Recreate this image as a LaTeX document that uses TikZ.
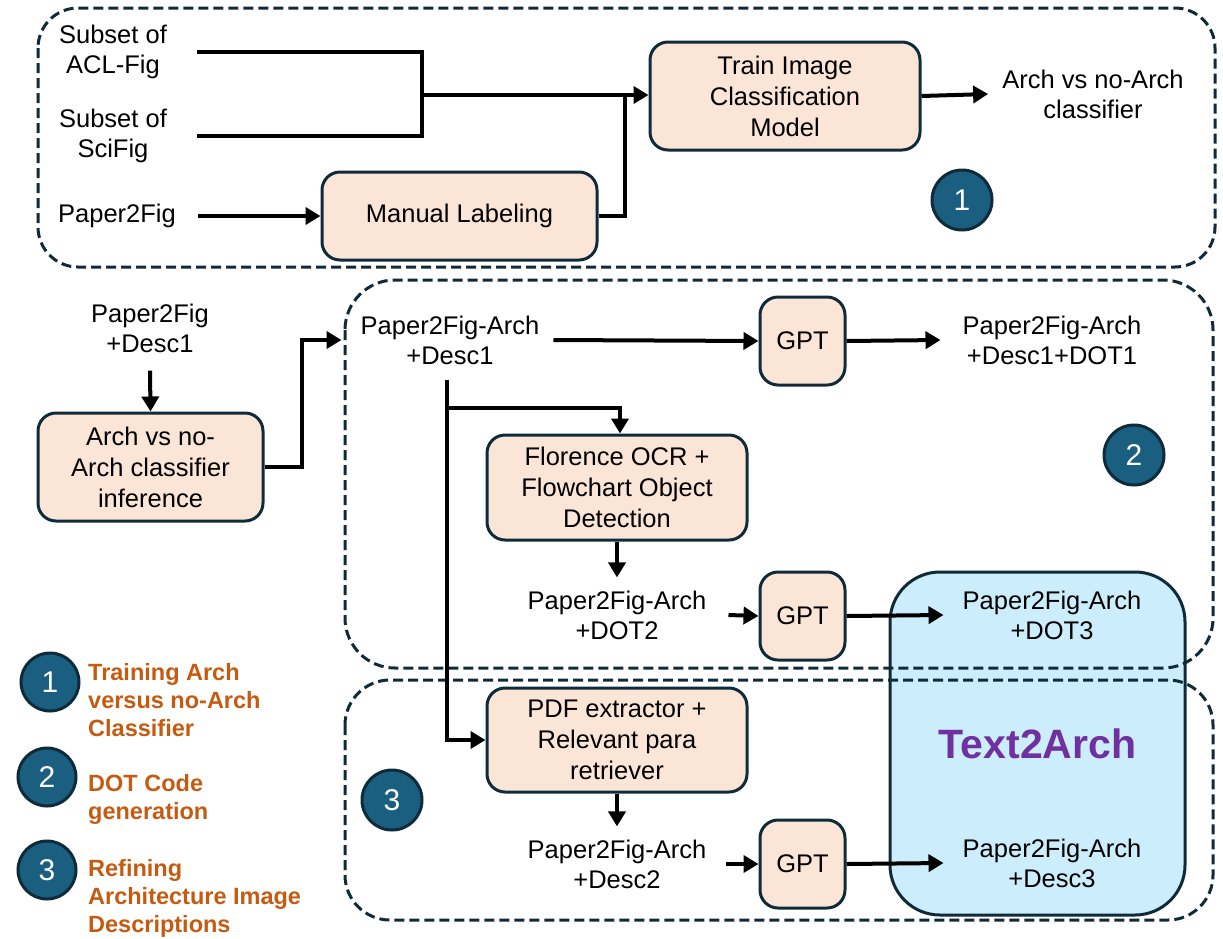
\documentclass[tikz,border=0pt]{standalone}
\usepackage{fontspec}
\setmainfont{Liberation Sans}
\usetikzlibrary{arrows.meta,calc}

\definecolor{peach}{HTML}{FBE5D6}
\definecolor{edge}{HTML}{0F2B3A}
\definecolor{badge}{HTML}{1A5E80}
\definecolor{skyfill}{HTML}{CCEDFB}
\definecolor{titlepurple}{HTML}{7030A0}
\definecolor{legendorange}{HTML}{C55A11}

\tikzset{
  txt/.style={align=center, inner sep=0pt, font=\fontsize{25.5}{30}\selectfont},
  procbox/.style={draw=edge, fill=peach, line width=3pt, rounded corners=18pt,
    align=center, inner sep=0pt, font=\fontsize{25.5}{31}\selectfont},
  gptbox/.style={procbox, minimum width=85pt, minimum height=88pt},
  conn/.style={line width=4pt, draw=black},
  arr/.style={conn, -{Triangle[length=15pt,width=17pt]}},
  dashbox/.style={draw=edge, line width=3pt, dash pattern=on 10pt off 5pt},
  badgenode/.style={circle, draw=edge, fill=badge, line width=3pt, inner sep=0pt,
    minimum size=60pt, text=white, font=\fontsize{30}{30}\selectfont},
  legendtxt/.style={anchor=west, align=left, inner sep=0pt, text=legendorange,
    font=\bfseries\fontsize{23.5}{28}\selectfont},
}

\begin{document}
\begin{tikzpicture}[x=1pt, y=-1pt]
\useasboundingbox (0,0) rectangle (1223,938);

% Text2Arch highlight region (behind the dashed groups)
\node[draw=edge, fill=skyfill, line width=3pt, rounded corners=50pt,
      minimum width=295pt, minimum height=343pt, inner sep=0pt,
      text=titlepurple, font=\bfseries\fontsize{41}{41}\selectfont]
      (t2a) at (1037.5,743.5) {Text2Arch};

% dashed stage groups
\draw[dashbox, rounded corners=40pt] (38,8) rectangle (1215,267);
\draw[dashbox, rounded corners=50pt] (345,280) rectangle (1213,668);
\draw[dashbox, rounded corners=45pt] (345,680) rectangle (1213,920);

% ---------- stage 1 ----------
\node[txt] (acl) at (113,52) {Subset of\\ACL-Fig};
\node[txt] (sci) at (113,136) {Subset of\\SciFig};
\node[txt] (p2f) at (117,216) {Paper2Fig};
\node[procbox, minimum width=275pt, minimum height=88pt] (manual) at (459.5,216) {Manual Labeling};
\node[procbox, minimum width=270pt, minimum height=108pt] (train) at (785,96) {Train Image\\Classification\\Model};
\node[txt] (cls) at (1093,94) {Arch vs no-Arch\\classifier};
\node[badgenode] (b1) at (962,200) {1};

\coordinate (j1) at (422,95);
\coordinate (j2) at (625,95);
\draw[conn] ([xshift=30pt]acl.east) -| (j1) |- ([xshift=30pt]sci.east);
\draw[arr] (j1) -- (train.west |- j1);
\draw[conn] (manual.east) -| (j2);
\draw[arr] ([xshift=22pt]p2f.east) -- (manual.west);
\draw[arr] (train.east) -- ([xshift=-14pt]cls.west);

% ---------- stage 2 ----------
\node[txt] (p2fd) at (150,328) {Paper2Fig\\+Desc1};
\node[procbox, minimum width=225pt, minimum height=108pt] (inf) at (150.5,467) {Arch vs no-\\Arch classifier\\inference};
\node[txt] (p2fa) at (450,340) {Paper2Fig-Arch\\+Desc1};
\node[gptbox] (gpt1) at (802.5,341) {GPT};
\node[txt] (dot1) at (1052,340) {Paper2Fig-Arch\\+Desc1+DOT1};
\node[badgenode] (b2) at (1134,455) {2};
\node[procbox, minimum width=260pt, minimum height=105pt] (flor) at (617,487.5) {Florence OCR +\\Flowchart Object\\Detection};
\node[txt] (dot2) at (617,615) {Paper2Fig-Arch\\+DOT2};
\node[gptbox] (gpt2) at (802.5,616) {GPT};
\node[txt] (dot3) at (1052,615) {Paper2Fig-Arch\\+DOT3};

\draw[arr] ([yshift=-18pt]p2fd.south) -- (inf.north);
\draw[arr] (inf.east) -- ++(37,0) |- ([xshift=-19pt]p2fa.west);
\draw[arr] ([xshift=14pt]p2fa.east) -- (gpt1.west);
\draw[arr] (gpt1.east) -- ([xshift=-22pt]dot1.west);

\coordinate (t0) at (447,380);
\coordinate (b0) at (447,408);
\draw[arr] (b0) -| ([xshift=3pt]flor.north);
\draw[arr] (flor.south) -- ([yshift=13pt]dot2.north);
\draw[arr] ([xshift=22pt]dot2.east) -- (gpt2.west);
\draw[arr] (gpt2.east) -- ([xshift=-19pt]dot3.west);

% ---------- stage 3 ----------
\node[procbox, minimum width=260pt, minimum height=104pt] (pdf) at (617,740) {PDF extractor +\\Relevant para\\retriever};
\node[txt] (desc2) at (617,864) {Paper2Fig-Arch\\+Desc2};
\node[gptbox] (gpt3) at (802.5,864) {GPT};
\node[txt] (desc3) at (1052,863) {Paper2Fig-Arch\\+Desc3};
\node[badgenode] (b3) at (392,800) {3};

\draw[arr] (t0) |- (pdf.west);
\draw[arr] (pdf.south) -- ([yshift=13pt]desc2.north);
\draw[arr] ([xshift=20pt]desc2.east) -- (gpt3.west);
\draw[arr] (gpt3.east) -- ([xshift=-19pt]desc3.west);

% ---------- legend ----------
\node[badgenode, minimum size=58pt] (l1) at (50,682) {1};
\node[badgenode, minimum size=58pt] (l2) at (47,777) {2};
\node[badgenode, minimum size=58pt] (l3) at (47,870) {3};
\node[legendtxt] (l1t) at (88,700) {Training Arch\\versus no-Arch\\Classifier};
\node[legendtxt] (l2t) at (88,799) {DOT Code\\generation};
\node[legendtxt] (l3t) at (88,898) {Refining\\Architecture Image\\Descriptions};
\end{tikzpicture}
\end{document}
